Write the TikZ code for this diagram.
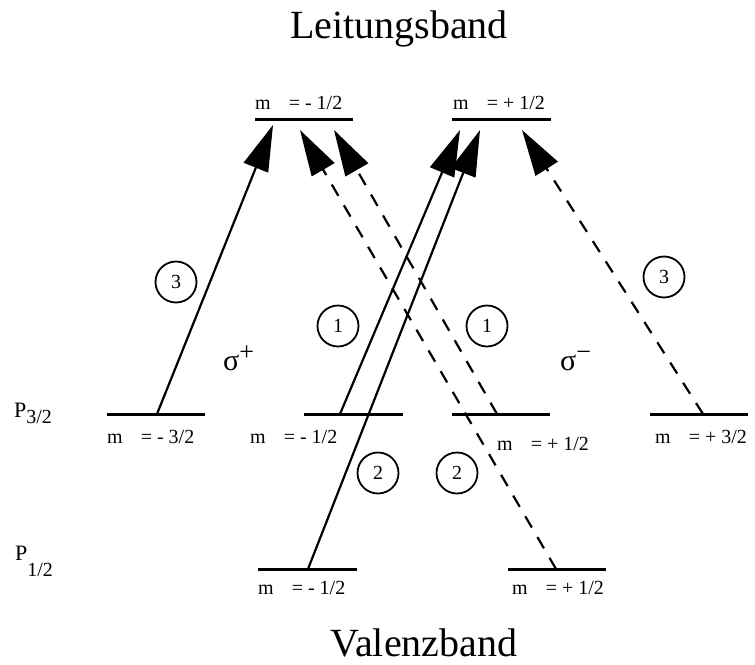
\documentclass[tikz,border=0pt]{standalone}
\usepackage{fontspec}
\setmainfont{Liberation Serif}
\usetikzlibrary{arrows.meta}
\begin{document}
\begin{tikzpicture}[x=1pt,y=-1pt,
  level/.style={line width=3pt},
  trans/.style={line width=2.2pt,-{Triangle[length=46pt,width=26pt]}},
  dashtrans/.style={trans,dash pattern=on 13pt off 11pt},
  num/.style={circle,draw,line width=1.8pt,minimum size=41pt,inner sep=0pt,font=\fontsize{20}{20}\selectfont},
  lab/.style={font=\fontsize{20}{20}\selectfont,anchor=base west,inner sep=0pt},
  big/.style={font=\fontsize{40}{40}\selectfont,inner sep=0pt,anchor=base},
  sig/.style={font=\fontsize{30}{30}\selectfont,inner sep=0pt,anchor=base west}]
\useasboundingbox (0,0) rectangle (755,664);

% titles
\node[big] (lb) at (399,38) {Leitungsband};
\node[big] (vb) at (424,656) {Valenzband};

% level end points
\coordinate (c1l) at (255,119); \coordinate (c1r) at (353,119);
\coordinate (c2l) at (452,119); \coordinate (c2r) at (551,119);
\coordinate (a1l) at (107,414); \coordinate (a1r) at (205,414);
\coordinate (a2l) at (304,414); \coordinate (a2r) at (403,414);
\coordinate (a3l) at (452,414); \coordinate (a3r) at (550,414);
\coordinate (a4l) at (650,414); \coordinate (a4r) at (748,414);
\coordinate (b1l) at (258,569); \coordinate (b1r) at (357,569);
\coordinate (b2l) at (508,569); \coordinate (b2r) at (606,569);

\draw[level] (c1l) -- (c1r);
\draw[level] (c2l) -- (c2r);
\draw[level] (a1l) -- (a1r);
\draw[level] (a2l) -- (a2r);
\draw[level] (a3l) -- (a3r);
\draw[level] (a4l) -- (a4r);
\draw[level] (b1l) -- (b1r);
\draw[level] (b2l) -- (b2r);

% level labels
\node[lab] (lc1) at (255,109) {m\hspace{18pt}= - 1/2};
\node[lab] (lc2) at (453,109) {m\hspace{18pt}= + 1/2};
\node[lab] (la1) at (107,443) {m\hspace{18pt}= - 3/2};
\node[lab] (la2) at (250,443) {m\hspace{18pt}= - 1/2};
\node[lab] (la3) at (497,450) {m\hspace{18pt}= + 1/2};
\node[lab] (la4) at (655,443) {m\hspace{18pt}= + 3/2};
\node[lab] (lb1) at (258,594) {m\hspace{18pt}= - 1/2};
\node[lab] (lb2) at (512,594) {m\hspace{18pt}= + 1/2};

% P labels
\node[lab] (p3) at (14,417) {{\fontsize{22}{22}\selectfont P}\raisebox{-6pt}{3/2}};
\node[lab] (p1) at (15,560) {{\fontsize{22}{22}\selectfont P}\raisebox{-16pt}{1/2}};

% transition points
\coordinate (sA) at (157,414); \coordinate (tA) at (273,125);
\coordinate (sB) at (340,414); \coordinate (tB) at (460,130);
\coordinate (sC) at (308,569); \coordinate (tC) at (480,130);
\coordinate (sD) at (497,414); \coordinate (tD) at (334,130);
\coordinate (sE) at (556,569); \coordinate (tE) at (300,130);
\coordinate (sF) at (703,414); \coordinate (tF) at (522,130);

\draw[trans] (sA) -- (tA);
\draw[trans] (sB) -- (tB);
\draw[trans] (sC) -- (tC);
\draw[dashtrans] (sD) -- (tD);
\draw[dashtrans] (sE) -- (tE);
\draw[dashtrans] (sF) -- (tF);

% numbered circles
\node[num] (n3a) at (176,282) {3};
\node[num] (n1a) at (338,326) {1};
\node[num] (n1b) at (487,326) {1};
\node[num] (n3b) at (664,277) {3};
\node[num] (n2a) at (378,473) {2};
\node[num] (n2b) at (457,473) {2};

% polarisations
\node[sig] (sp) at (223,370) {σ\raisebox{10pt}{\fontsize{26}{26}\selectfont +}};
\node[sig] (sm) at (560,370) {σ\raisebox{10pt}{\fontsize{26}{26}\selectfont −}};
\end{tikzpicture}
\end{document}
